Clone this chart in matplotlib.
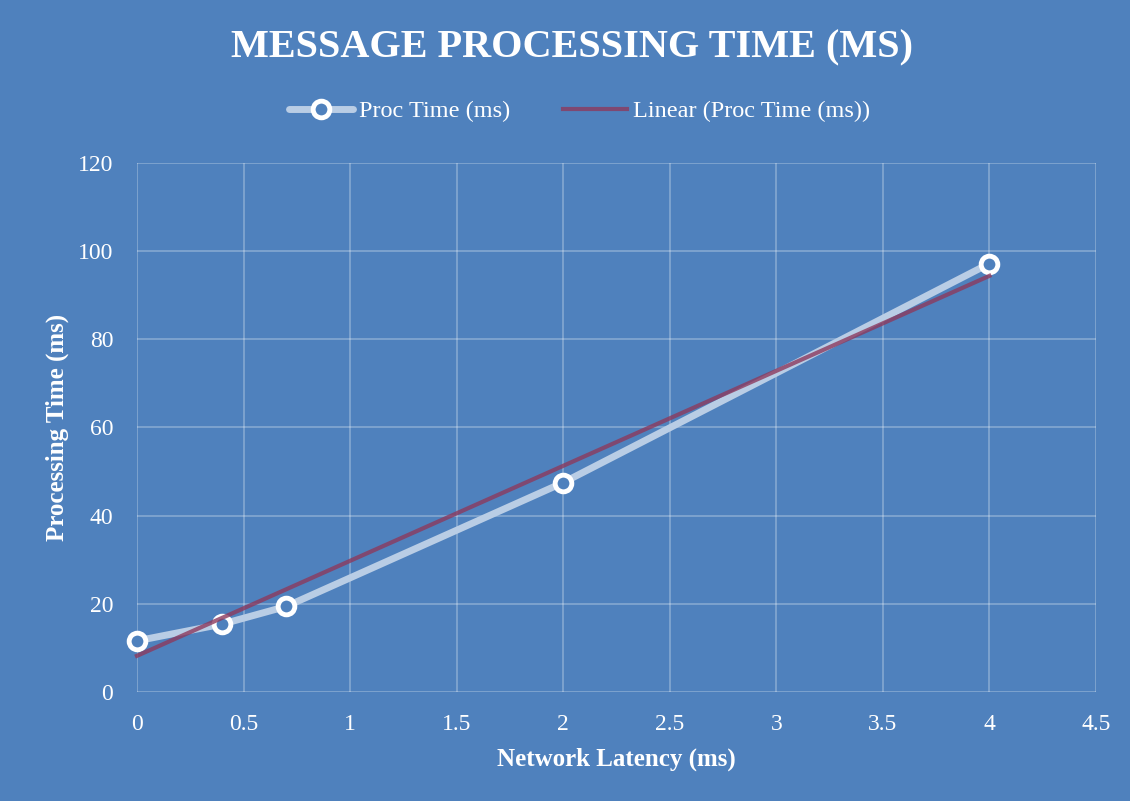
import numpy as np
import matplotlib
matplotlib.use("Agg")
import matplotlib.pyplot as plt

# Data
latency_ms = [0, 0.4, 0.7, 2, 4]
proc_time_ms = [11.6, 15.4, 19.4, 47.5, 97.2]
trend_x = [0, 4]
trend_y = [8.2, 94.4]
x_ticks = [0, 0.5, 1, 1.5, 2, 2.5, 3, 3.5, 4, 4.5]
y_ticks = [0, 20, 40, 60, 80, 100, 120]

BG = "#4F81BD"
FONT = ["Liberation Serif", "DejaVu Serif"]

fig = plt.figure(figsize=(11.3, 8.01), dpi=100, facecolor=BG)
ax = fig.add_axes([0.1212, 0.1361, 0.8487, 0.6604], facecolor=BG)

ax.set_xlim(0, 4.5)
ax.set_ylim(0, 120)
ax.set_xticks(x_ticks)
ax.set_yticks(y_ticks)
ax.set_xticklabels([f"{t:g}" for t in x_ticks], fontsize=17, color="white", family=FONT)
ax.set_yticklabels([f"{t:g}" for t in y_ticks], fontsize=17, color="white", family=FONT)
ax.tick_params(axis="y", length=0, pad=17)
ax.tick_params(axis="x", length=0, pad=16)
ax.grid(True, color="white", alpha=0.33, linewidth=1.1)
ax.set_axisbelow(True)
for s in ax.spines.values():
    s.set_visible(False)

ax.plot(latency_ms, proc_time_ms, color="#B9CDE5", linewidth=5, solid_capstyle="round",
        marker="o", markersize=12, markerfacecolor=BG, markeredgecolor="white",
        markeredgewidth=3.5, label="Proc Time (ms)", zorder=3, clip_on=False)
ax.plot(trend_x, trend_y, color="#8C3A5E", alpha=0.8, linewidth=3,
        label="Linear (Proc Time (ms))", zorder=4, clip_on=False)

ax.set_xlabel("Network Latency (ms)", fontsize=18, fontweight="bold", color="white",
              family=FONT, va="center", ha="center")
ax.xaxis.set_label_coords(0.5, -0.1267)
ax.set_ylabel("Processing Time (ms)", fontsize=18, fontweight="bold", color="white",
              family=FONT, va="center", ha="center")
ax.yaxis.set_label_coords(-0.0834, 0.5)

fig.text(0.506, 0.94, "MESSAGE PROCESSING TIME (MS)", ha="center", va="center",
         fontsize=29, fontweight="bold", color="white", family=FONT)

leg = fig.legend(loc="center", bbox_to_anchor=(0.513, 0.861), ncol=2, frameon=False,
                 prop={"family": FONT, "size": 17.5}, labelcolor="white",
                 handlelength=2.6, columnspacing=2.2, handletextpad=0.25)

fig.savefig("out.png", dpi=100, facecolor=BG)
